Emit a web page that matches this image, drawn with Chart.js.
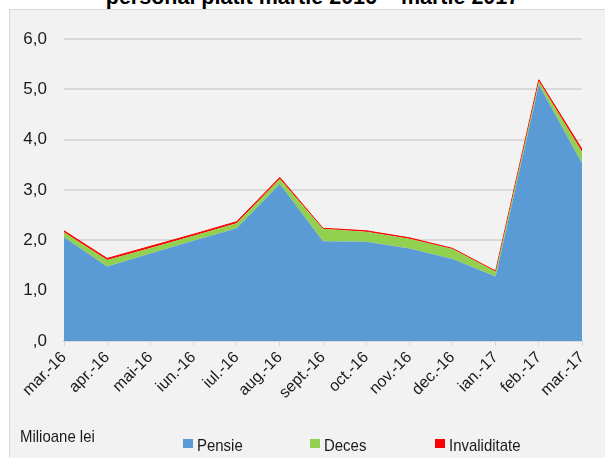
<!DOCTYPE html>
<html lang="ro">
<head>
<meta charset="UTF-8">
<title>Plăți martie 2016 – martie 2017</title>
<script src="https://cdn.jsdelivr.net/npm/chart.js"></script>
<style>
    body { margin: 0; width: 605px; height: 458px; overflow: hidden; background: #fff; position: relative;
           font-family: "Liberation Sans", Arial, sans-serif; }
    #panel { position: absolute; left: 9px; top: 9px; width: 620px; height: 460px; background: #f2f2f2; border: 1px solid #d9d9d9; }
    #title { position: absolute; left: 10px; width: 605px; top: -13px; text-align: center; white-space: nowrap;
             font: bold 21.5px "Liberation Sans", Arial, sans-serif; line-height: 21px; color: #000; }
    #wrap { position: absolute; left: 0; top: 0; }
    .narrow { position: absolute; font-size: 17px; line-height: 17px; color: #1a1a1a; white-space: nowrap;
              transform: scaleX(0.88); transform-origin: left center; }
    #unit { left: 20px; top: 428px; }
    .box { position: absolute; width: 10px; height: 9px; top: 439px; }
</style>
</head>
<body>
<div id="panel"></div>
<div id="title">personal plătit martie 2016 – martie 2017</div>
<div id="wrap"><canvas id="areaChart" width="605" height="458"></canvas></div>
<div id="unit" class="narrow">Milioane lei</div>
<div id="legend"></div>

<script>
    const months = ['mar.-16', 'apr.-16', 'mai-16', 'iun.-16', 'iul.-16', 'aug.-16', 'sept.-16',
                    'oct.-16', 'nov.-16', 'dec.-16', 'ian.-17', 'feb.-17', 'mar.-17'];
    const pensie = [2.06, 1.48, 1.74, 1.99, 2.24, 3.12, 1.98, 1.97, 1.84, 1.63, 1.28, 5.09, 3.53];
    const deces = [0.10, 0.13, 0.11, 0.10, 0.10, 0.10, 0.25, 0.20, 0.19, 0.20, 0.10, 0.07, 0.23];
    const invaliditate = [0.03, 0.03, 0.03, 0.03, 0.03, 0.03, 0.01, 0.02, 0.02, 0.01, 0.01, 0.03, 0.05];
    const yTicks = [0, 1, 2, 3, 4, 5, 6];

    const series = [
        { label: 'Pensie', data: pensie, color: '#5b9bd5', line: 0 },
        { label: 'Deces', data: deces, color: '#92d050', line: 0 },
        { label: 'Invaliditate', data: invaliditate, color: '#ff0000', line: 1 }
    ];
    const legendX = [183, 310, 435]; // where each legend swatch sits

    const txt = '#1a1a1a';
    const fontFamily = '"Liberation Sans", Arial, sans-serif';

    const ctx = document.getElementById('areaChart').getContext('2d');
    const chart = new Chart(ctx, {
        type: 'line',
        data: {
            labels: months,
            datasets: series.map((s, i) => ({
                label: s.label,
                data: s.data,
                backgroundColor: s.color,
                borderColor: s.color,
                borderWidth: s.line,
                fill: i === 0 ? 'origin' : '-1',
                pointRadius: 0,
                tension: 0
            }))
        },
        options: {
            responsive: false,
            animation: false,
            devicePixelRatio: 1,
            layout: { padding: { top: 39, right: 23, left: 0, bottom: 37 } },
            plugins: {
                legend: { display: false },
                tooltip: { enabled: false }
            },
            scales: {
                x: {
                    offset: false,
                    grid: { display: true, drawOnChartArea: false, color: '#d9d9d9', tickLength: 5, lineWidth: 1 },
                    border: { color: '#d9d9d9', width: 2 },
                    ticks: { color: txt, font: { family: fontFamily, size: 16 }, minRotation: 45, maxRotation: 45, autoSkip: false, padding: 2 },
                    afterFit: s => { s.height = 80; }
                },
                y: {
                    stacked: true,
                    min: 0,
                    max: 6,
                    afterBuildTicks: s => { s.ticks = yTicks.map(v => ({ value: v })); },
                    grid: { color: '#d9d9d9', lineWidth: 2, drawTicks: false },
                    border: { display: false },
                    ticks: {
                        color: txt,
                        font: { family: fontFamily, size: 17 },
                        padding: 17,
                        callback: v => v === 0 ? ',0' : v.toFixed(1).replace('.', ',')
                    },
                    afterFit: s => { s.width = 64; }
                }
            }
        }
    });

    // legend built from the same series list
    const legend = document.getElementById('legend');
    chart.data.datasets.forEach((ds, i) => {
        const box = document.createElement('div');
        box.className = 'box';
        box.style.left = legendX[i] + 'px';
        box.style.background = ds.backgroundColor;
        legend.appendChild(box);

        const label = document.createElement('div');
        label.className = 'narrow';
        label.style.left = (legendX[i] + 14) + 'px';
        label.style.top = '437px';
        label.textContent = ds.label;
        legend.appendChild(label);
    });
</script>
</body>
</html>
